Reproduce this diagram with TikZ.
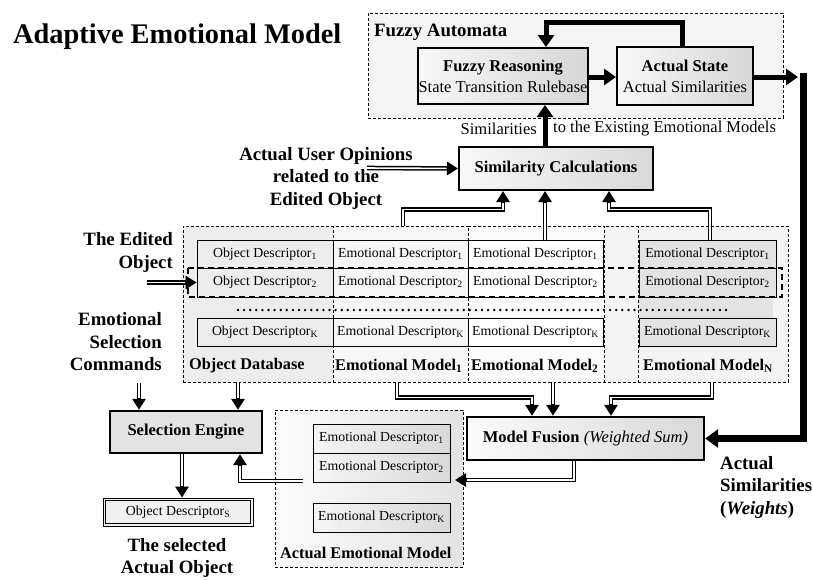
\documentclass[tikz,border=0pt]{standalone}
\usepackage{fontspec}
\setmainfont{Liberation Serif}
\usetikzlibrary{arrows.meta,calc}
\begin{document}
\begin{tikzpicture}[x=1pt,y=-1pt,
  lbl/.style={font=\fontsize{18.8}{22.5}\selectfont\bfseries, inner sep=0pt},
  boxtxt/.style={font=\fontsize{16.5}{20}\selectfont, inner sep=0pt},
  region/.style={draw, dash pattern=on 3pt off 2pt, line width=0.7pt, inner sep=0pt},
  cell/.style={draw, line width=0.8pt, inner sep=0pt, font=\fontsize{13.8}{16}\selectfont},
  mainbox/.style={draw, line width=2pt, inner sep=0pt, font=\fontsize{16.5}{21}\selectfont, align=center},
  dbl/.style={draw=white, line width=1.6pt, shorten >=11.5pt,
    preaction={draw=black, line width=4.6pt, shorten >=0pt, -{Triangle[length=11pt,width=13pt]}}},
  thk/.style={line width=5pt, -{Triangle[length=12pt,width=16pt]}},
]
\useasboundingbox[fill=white] (0,0) rectangle (813,579);

% title
\node[font=\fontsize{28.4}{30}\selectfont\bfseries, anchor=base west, inner sep=0pt] (title) at (13,43) {Adaptive Emotional Model};

% ---------- Fuzzy automata
\node[region, fill=gray!8, minimum width=415pt, minimum height=105pt] (fa) at (575.5,65.5) {};
\node[lbl, anchor=base west] (falbl) at (374,36) {Fuzzy Automata};
\node[mainbox, left color=gray!6, right color=gray!32, minimum width=170pt, minimum height=56pt] (fr) at (503,76) {\textbf{Fuzzy Reasoning}\\State Transition Rulebase};
\node[mainbox, left color=gray!6, right color=gray!32, minimum width=136pt, minimum height=58pt] (as) at (685,76) {\textbf{Actual State}\\Actual Similarities};

\node[boxtxt, anchor=east] (simA) at (537,129) {Similarities};
\node[boxtxt, anchor=west] (simB) at (553,129) {to the Existing Emotional Models};

% ---------- Similarity calculations
\node[mainbox, left color=gray!6, right color=gray!30, minimum width=194pt, minimum height=43pt] (sc) at (556,168.5) {\textbf{Similarity Calculations}};
\node[lbl, align=center] (uo) at (326,178) {Actual User Opinions\\related to the\\Edited Object};

% ---------- database area
\node[region, fill=gray!9, minimum width=605pt, minimum height=156pt] (dbframe) at (485.5,304) {};
\node[region, fill=gray!14, minimum width=150pt, minimum height=156pt] (odb) at (258,304) {};
\node[region, fill=gray!6, minimum width=135pt, minimum height=156pt] (em1) at (400.5,304) {};
\node[region, fill=gray!3, minimum width=136pt, minimum height=156pt] (em2) at (536,304) {};
\node[region, fill=gray!9, minimum width=150pt, minimum height=156pt] (emN) at (713,304) {};
\fill[gray!22] (639,240) rectangle (773,318);

\node[lbl, anchor=west, font=\fontsize{16.3}{20}\selectfont\bfseries] (odbl) at (189,366) {Object Database};
\node[lbl, anchor=west, font=\fontsize{16.3}{20}\selectfont\bfseries] (em1l) at (335,366) {Emotional Model\textsubscript{1}};
\node[lbl, anchor=west, font=\fontsize{16.3}{20}\selectfont\bfseries] (em2l) at (471,366) {Emotional Model\textsubscript{2}};
\node[lbl, anchor=west, font=\fontsize{16.3}{20}\selectfont\bfseries] (emNl) at (643,366) {Emotional Model\textsubscript{N}};

% rows
\node[cell, fill=gray!14, minimum width=136pt, minimum height=28pt] (o1) at (265,254) {Object Descriptor\textsubscript{1}};
\node[cell, fill=gray!14, minimum width=136pt, minimum height=29pt] (o2) at (265,282.5) {Object Descriptor\textsubscript{2}};
\node[cell, fill=gray!14, minimum width=136pt, minimum height=28pt] (oK) at (265,332) {Object Descriptor\textsubscript{K}};

\node[cell, fill=gray!6, minimum width=135pt, minimum height=28pt] (a1) at (400.5,254) {Emotional Descriptor\textsubscript{1}};
\node[cell, fill=gray!6, minimum width=135pt, minimum height=29pt] (a2) at (400.5,282.5) {Emotional Descriptor\textsubscript{2}};
\node[cell, fill=gray!6, minimum width=135pt, minimum height=28pt] (aK) at (400.5,332) {Emotional Descriptor\textsubscript{K}};

\node[cell, fill=white, minimum width=135pt, minimum height=28pt] (b1) at (535.5,254) {Emotional Descriptor\textsubscript{1}};
\node[cell, fill=white, minimum width=135pt, minimum height=29pt] (b2) at (535.5,282.5) {Emotional Descriptor\textsubscript{2}};
\node[cell, fill=white, minimum width=135pt, minimum height=28pt] (bK) at (535.5,332) {Emotional Descriptor\textsubscript{K}};

\node[cell, fill=gray!22, minimum width=137pt, minimum height=28pt] (n1) at (707.5,254) {Emotional Descriptor\textsubscript{1}};
\node[cell, fill=gray!22, minimum width=137pt, minimum height=29pt] (n2) at (707.5,282.5) {Emotional Descriptor\textsubscript{2}};
\node[cell, fill=gray!22, minimum width=137pt, minimum height=28pt] (nK) at (707.5,332) {Emotional Descriptor\textsubscript{K}};

\coordinate (dotL) at (238,310);
\coordinate (dotR) at (732,310);
\draw[line width=2.7pt, line cap=round, dash pattern=on 0pt off 6.1pt] (dotL) -- (dotR);
\coordinate (selA) at (188,268);
\coordinate (selB) at (782,297);
\draw[line width=1.5pt, dash pattern=on 6pt off 4pt] (selA) rectangle (selB);

% ---------- side labels
\node[lbl, align=right, anchor=east] (edited) at (173,252.5) {The Edited\\Object};
\node[lbl, align=right, anchor=east] (cmds) at (162,342) {Emotional\\Selection\\Commands};
\node[lbl, align=center] (selobj) at (177,558) {The selected\\Actual Object};
\node[lbl, align=left, anchor=west] (weights) at (720,487) {Actual\\Similarities\\(\textit{Weights})};

% ---------- lower boxes
\node[draw, line width=2.4pt, fill=gray!22, inner sep=0pt, font=\fontsize{16.5}{20}\selectfont\bfseries, minimum width=152pt, minimum height=42pt] (se) at (186,432) {Selection Engine};
\node[draw, line width=0.8pt, fill=gray!12, inner sep=0pt, font=\fontsize{13.8}{16}\selectfont, minimum width=150pt, minimum height=28pt] (ods) at (178,512) {Object Descriptor\textsubscript{S}};
\draw[line width=0.8pt] ($(ods.south west)+(2.6pt,2.6pt)$) rectangle ($(ods.north east)+(-2.6pt,-2.6pt)$);

\node[region, left color=gray!3, right color=gray!22, minimum width=188pt, minimum height=157pt] (aem) at (369,488.5) {};
\node[lbl, anchor=base west, font=\fontsize{16.3}{20}\selectfont\bfseries] (aeml) at (280,558) {Actual Emotional Model};
\node[cell, left color=gray!8, right color=gray!30, minimum width=137pt, minimum height=29pt] (c1) at (381.5,438.5) {Emotional Descriptor\textsubscript{1}};
\node[cell, left color=gray!8, right color=gray!30, minimum width=137pt, minimum height=29pt] (c2) at (381.5,467.5) {Emotional Descriptor\textsubscript{2}};
\node[cell, left color=gray!8, right color=gray!30, minimum width=137pt, minimum height=29pt] (cK) at (381.5,517.5) {Emotional Descriptor\textsubscript{K}};

\node[mainbox, left color=gray!4, right color=gray!30, line width=2.4pt, minimum width=237pt, minimum height=43pt] (mf) at (585.5,438.5) {\textbf{Model Fusion} \textit{(Weighted Sum)}};

% ---------- helper coordinates
\coordinate (uoS) at (367,168);
\coordinate (edS) at (147,282.5);
\coordinate (cmS) at (139,383);
\coordinate (x238) at (238,0);
\coordinate (x139) at (139,0);
\coordinate (x182) at (182,0);
\coordinate (aemS) at (303,481);
\coordinate (x240) at (240,0);
\coordinate (x574) at (574,0);
\coordinate (mfT) at (455,480);
\coordinate (x397) at (397,0);
\coordinate (x532) at (532,0);
\coordinate (x553) at (553,0);
\coordinate (x712) at (712,0);
\coordinate (x611) at (611,0);
\coordinate (x403) at (403,0);
\coordinate (x503) at (503,0);
\coordinate (x545) at (545,0);
\coordinate (x710) at (710,0);
\coordinate (x609) at (609,0);
\coordinate (x682) at (682,0);
\coordinate (x546) at (546,0);
\coordinate (asE) at (798,77);
\coordinate (vTop) at (803,73);

% ---------- double arrows
\draw[dbl] (uoS) -- (sc.west);
\draw[dbl] (edS) -- (o2.west);
\draw[dbl] (cmS) -- (x139 |- se.north);
\draw[dbl] (x238 |- odb.south) -- (x238 |- se.north);
\draw[dbl] (x182 |- se.south) -- (x182 |- ods.north);
\draw[dbl] (aemS) -| (x240 |- se.south);
\draw[dbl] (x574 |- mf.south) |- (mfT);
\draw[dbl] (x397 |- em1.south) -- ++(0,15) -| (x532 |- mf.north);
\draw[dbl] (x553 |- em2.south) -- (x553 |- mf.north);
\draw[dbl] (x712 |- emN.south) -- ++(0,15) -| (x611 |- mf.north);
\draw[dbl] (x403 |- em1.north) -- ++(0,-16) -| (x503 |- sc.south);
\draw[dbl] (x545 |- b1.north) -- (x545 |- sc.south);
\draw[dbl] (x710 |- n1.north) -- ++(0,-30) -| (x609 |- sc.south);

% ---------- thick arrows
\draw[thk] (x545 |- sc.north) -- (x545 |- fr.south);
\draw[thk] (fr.east |- 0,77) -- (as.west |- 0,77);
\draw[thk] (x682 |- as.north) -- ++(0,-24) -| (x546 |- fr.north);
\draw[thk] (as.east |- asE) -- (asE);
\draw[line width=7pt, -{Triangle[length=13pt,width=18pt]}] (vTop) |- (mf.east);
\end{tikzpicture}
\end{document}
